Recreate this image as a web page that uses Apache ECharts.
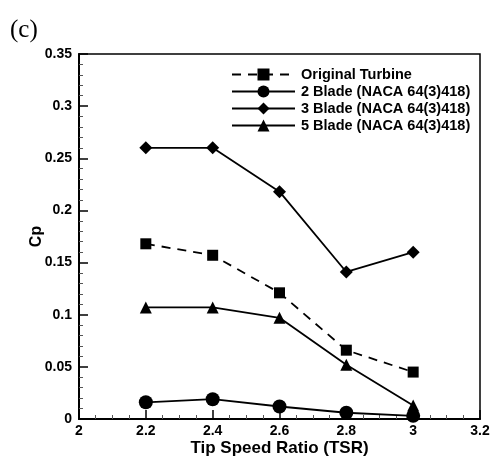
<!DOCTYPE html>
<html>
<head>
<meta charset="utf-8">
<script src="https://cdn.jsdelivr.net/npm/echarts@6/dist/echarts.min.js"></script>
<style>html,body{margin:0;padding:0;background:#fff}#c{width:494px;height:462px}</style>
</head>
<body>
<div id="c"></div>
<script>
var tsr = [2.2, 2.4, 2.6, 2.8, 3.0];
var seriesNames = ['Original Turbine', '2 Blade (NACA 64(3)418)', '3 Blade (NACA 64(3)418)', '5 Blade (NACA 64(3)418)'];
var original = [0.168, 0.157, 0.121, 0.066, 0.045];
var blade2 = [0.016, 0.019, 0.012, 0.006, 0.003];
var blade3 = [0.260, 0.260, 0.218, 0.141, 0.160];
var blade5 = [0.107, 0.107, 0.097, 0.052, 0.013];

function pairs(vals){ return tsr.map(function(x,i){ return [x, vals[i]]; }); }
var font = 'Liberation Sans, Arial, sans-serif';
var chart = echarts.init(document.getElementById('c'), null, {renderer:'canvas'});
function mk(name, vals, symbol, size, dashed){
  return {
    name: name, type: 'line', data: pairs(vals), symbol: symbol, symbolSize: size,
    itemStyle: {color:'#000'},
    lineStyle: {color:'#000', width: 1.8, type: dashed ? [9,7] : 'solid'},
    emphasis: {disabled: true}, animation: false, z: 3
  };
}
chart.setOption({
  animation: false,
  title: {text: '(c)', left: 5, top: 13, textStyle: {fontFamily: 'Liberation Serif, Times New Roman, serif', fontSize: 25, fontWeight: 'normal', color:'#000'}},
  grid: {left: 79, right: 14, top: 54, bottom: 42, show: true, borderColor: '#000', borderWidth: 1.5, backgroundColor: 'transparent'},
  legend: {
    orient: 'vertical', left: 226, top: 62, itemWidth: 63, itemHeight: 15, itemGap: 2,
    data: seriesNames,
    textStyle: {fontFamily: font, fontWeight: 'bold', fontSize: 14.5, color: '#000', padding: [0,0,0,1]},
    selectedMode: false
  },
  xAxis: {
    type: 'value', min: 2, max: 3.2, interval: 0.2,
    name: 'Tip Speed Ratio (TSR)', nameLocation: 'middle', nameGap: 21, nameMoveOverlap: false,
    nameTextStyle: {fontFamily: font, fontWeight: 'bold', fontSize: 17, color:'#000'},
    axisLine: {show: true, onZero: false, lineStyle: {color:'#000', width: 2}},
    axisTick: {show: true, inside: true, length: 9, lineStyle: {color:'#000', width: 1.5}},
    minorTick: {show: true, splitNumber: 4, length: 4, lineStyle: {color:'#555', width: 1}},
    splitLine: {show: false},
    axisLabel: {margin: 5, fontFamily: font, fontWeight: 'bold', fontSize: 14, color:'#000'}
  },
  yAxis: {
    type: 'value', min: 0, max: 0.35, interval: 0.05,
    name: 'Cp', nameLocation: 'middle', nameGap: 34, nameMoveOverlap: false,
    nameTextStyle: {fontFamily: font, fontWeight: 'bold', fontSize: 16, color:'#000'},
    axisLine: {show: true, onZero: false, lineStyle: {color:'#000', width: 2}},
    axisTick: {show: true, inside: true, length: 9, lineStyle: {color:'#000', width: 1.5}},
    minorTick: {show: true, splitNumber: 5, length: 4, lineStyle: {color:'#555', width: 1}},
    splitLine: {show: false},
    axisLabel: {margin: 7, fontFamily: font, fontWeight: 'bold', fontSize: 14, color:'#000'}
  },
  series: [
    mk(seriesNames[0], original, 'rect', 11, true),
    mk(seriesNames[1], blade2, 'circle', 14, false),
    mk(seriesNames[2], blade3, 'diamond', 13, false),
    mk(seriesNames[3], blade5, 'triangle', 12, false)
  ]
});
</script>
</body>
</html>
